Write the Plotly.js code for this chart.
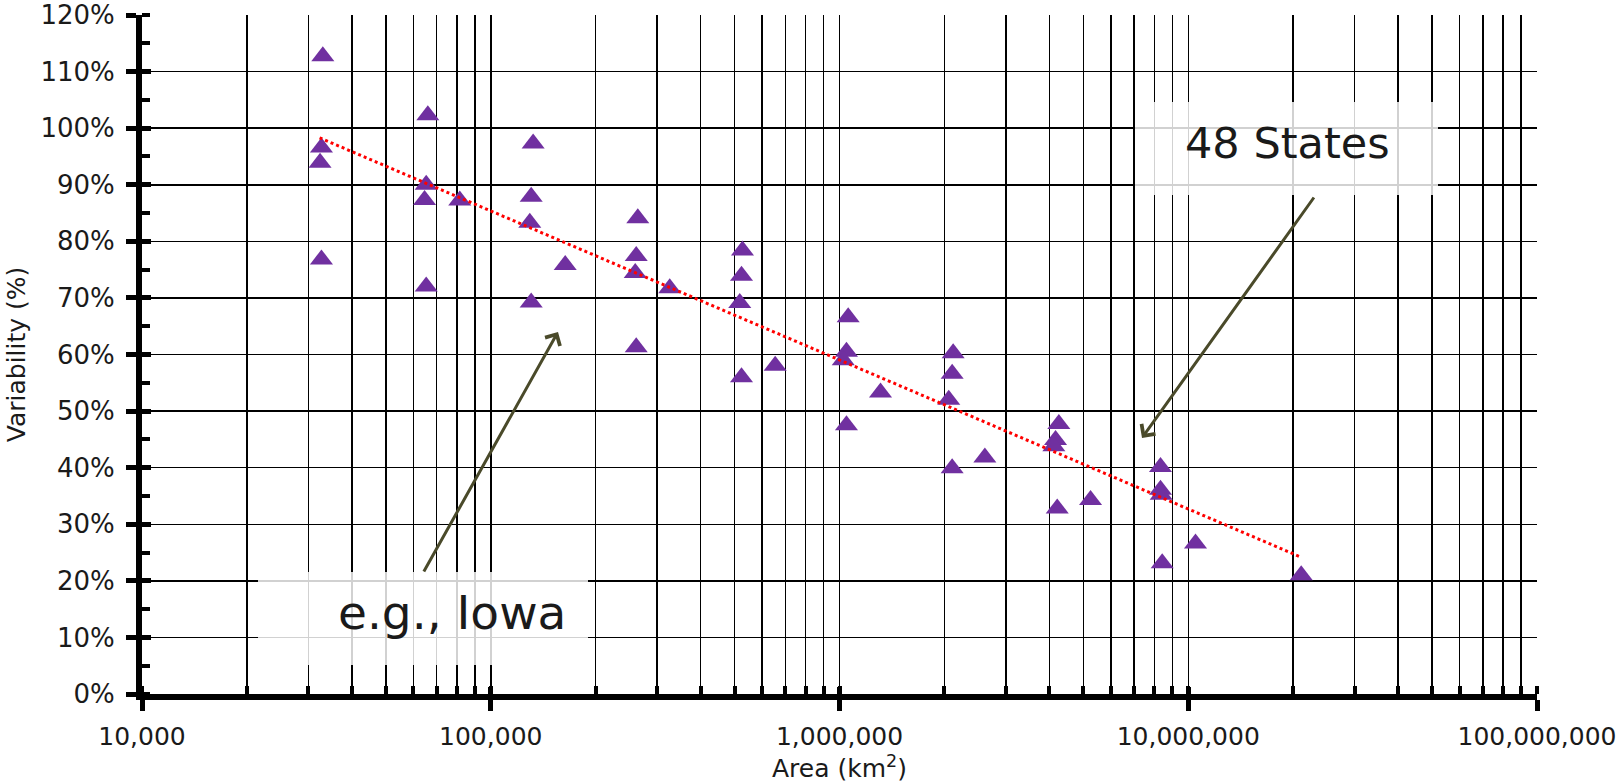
<!DOCTYPE html>
<html>
<head>
<meta charset="utf-8">
<script src="https://cdn.plot.ly/plotly-3.0.1.min.js"></script>
<style>html,body{margin:0;padding:0;background:#fff;}#chart{width:1619px;height:783px;}</style>
</head>
<body>
<div id="chart"></div>
<script>
// Area (km²) of each region
const areaKm2 = [
  33000, 32700, 32400, 32700,
  66000, 65300, 64600, 65300, 81500,
  132300, 130600, 129400, 130600, 163500,
  264000, 261300, 259600, 261300, 326000,
  527000, 523600, 517600, 523600, 654000,
  1059000, 1047000, 1025000, 1047000, 1311000,
  2118000, 2104000, 2057000, 2104000, 2611000,
  4255000, 4164000, 4118000, 4210000, 5246000,
  8326000, 8326000, 8364000, 8420000, 10490000,
  21080000
];
// Variability (%)
const variabilityPct = [
  112.7, 96.6, 93.9, 76.8,
  102.3, 90.0, 87.3, 72.0, 87.2,
  97.3, 87.9, 83.3, 69.2, 75.8,
  84.1, 77.4, 74.4, 61.3, 71.7,
  78.4, 73.9, 69.1, 56.0, 58.0,
  66.6, 60.5, 59.0, 47.5, 53.3,
  60.2, 56.6, 52.0, 39.9, 41.8,
  47.7, 44.9, 43.8, 32.8, 34.3,
  40.1, 36.1, 35.2, 23.1, 26.6,
  21.0
];
// Logarithmic trendline end points
const trendArea = [32300, 21020000];
const trendPct = [98.3, 24.2];

const xTitle = 'Area (km<sup>2</sup>)';
const yTitle = 'Variability (%)';
const labelStates = '48 States';
const labelIowa = 'e.g., Iowa';

const FONT = 'DejaVu Sans, sans-serif';
const TXT = '#1a1a1a';

const traces = [
  {
    x: areaKm2, y: variabilityPct, type: 'scatter', mode: 'markers',
    marker: {symbol: 'triangle-up', size: 20, color: '#7030A0', line: {width: 0}},
    hoverinfo: 'x+y', showlegend: false
  },
  {
    x: trendArea, y: trendPct, type: 'scatter', mode: 'lines',
    xaxis: 'x2', yaxis: 'y2',
    line: {color: '#FF0000', width: 3, dash: 'dot'},
    hoverinfo: 'skip', showlegend: false
  }
];

// plot area in pixels: left 142, right 1537, top 15, bottom 694
const L = 142, R = 1537, T = 15, B = 694;
const px = v => (v - L) / (R - L);
const py = v => (B - v) / (B - T);

const layout = {
  width: 1619, height: 783, autosize: false,
  margin: {l: L, r: 1619 - R, t: T, b: 783 - B, pad: 0},
  paper_bgcolor: '#ffffff', plot_bgcolor: '#ffffff',
  font: {family: FONT, color: TXT, size: 26},
  showlegend: false,
  xaxis: {
    type: 'log', range: [4, 8], dtick: 1, tickformat: ',d',
    showgrid: true, gridcolor: '#000000', gridwidth: 1.5,
    showline: true, linecolor: '#000000', linewidth: 6,
    ticks: 'outside', ticklen: 11, tickwidth: 5, tickcolor: '#000000',
    tickfont: {family: FONT, size: 25, color: TXT},
    ticklabelstandoff: 4,
    minor: {dtick: 'D1', ticks: 'inside', ticklen: 8, tickwidth: 4, tickcolor: '#000000',
            showgrid: true, gridcolor: '#000000', gridwidth: 1.5},
    title: {text: xTitle, font: {family: FONT, size: 25, color: TXT}, standoff: 6},
    zeroline: false, fixedrange: true
  },
  yaxis: {
    range: [0, 120], dtick: 10, ticksuffix: '%',
    showgrid: true, gridcolor: '#000000', gridwidth: 1.5,
    showline: true, linecolor: '#000000', linewidth: 6,
    ticks: 'outside', ticklen: 10, tickwidth: 5, tickcolor: '#000000',
    tickfont: {family: FONT, size: 26, color: TXT},
    ticklabelstandoff: 6,
    minor: {dtick: 5, ticks: 'inside', ticklen: 8, tickwidth: 4, tickcolor: '#000000', showgrid: false},
    title: {text: yTitle, font: {family: FONT, size: 25, color: TXT}, standoff: 10},
    zeroline: false, fixedrange: true
  },
  xaxis2: {
    type: 'log', range: [4, 8], dtick: 1, overlaying: 'x', side: 'bottom',
    showgrid: false, showline: false, showticklabels: false, zeroline: false,
    ticks: 'inside', ticklen: 7, tickwidth: 5, tickcolor: '#000000', fixedrange: true
  },
  yaxis2: {
    range: [0, 120], dtick: 10, overlaying: 'y', side: 'left',
    showgrid: false, showline: false, showticklabels: false, zeroline: false,
    ticks: 'inside', ticklen: 9, tickwidth: 5, tickcolor: '#000000', fixedrange: true
  },
  shapes: [
    {type: 'rect', xref: 'paper', yref: 'paper', layer: 'above',
     x0: px(1135), x1: px(1438), y0: py(195), y1: py(102),
     fillcolor: 'rgba(255,255,255,0.82)', line: {width: 0}},
    {type: 'rect', xref: 'paper', yref: 'paper', layer: 'above',
     x0: px(258), x1: px(588), y0: py(665), y1: py(572),
     fillcolor: 'rgba(255,255,255,0.82)', line: {width: 0}}
  ],
  annotations: [
    {xref: 'paper', yref: 'paper', x: px(1287), y: py(143), text: labelStates,
     showarrow: false, xanchor: 'center', yanchor: 'middle',
     font: {family: FONT, size: 43, color: TXT}},
    {xref: 'paper', yref: 'paper', x: px(452), y: py(612), text: labelIowa,
     showarrow: false, xanchor: 'center', yanchor: 'middle',
     font: {family: FONT, size: 47, color: TXT}},
    {xref: 'paper', yref: 'paper', x: px(1142), y: py(438), text: '',
     showarrow: true, arrowhead: 4, arrowsize: 1.1, arrowwidth: 3, arrowcolor: '#4a4a2a',
     ax: 1315 - 1142, ay: 196 - 438, standoff: 0},
    {xref: 'paper', yref: 'paper', x: px(558), y: py(332), text: '',
     showarrow: true, arrowhead: 4, arrowsize: 1.1, arrowwidth: 3, arrowcolor: '#4a4a2a',
     ax: 423 - 558, ay: 573 - 332, standoff: 0}
  ]
};

Plotly.newPlot('chart', traces, layout, {staticPlot: true, displayModeBar: false});
</script>
</body>
</html>
